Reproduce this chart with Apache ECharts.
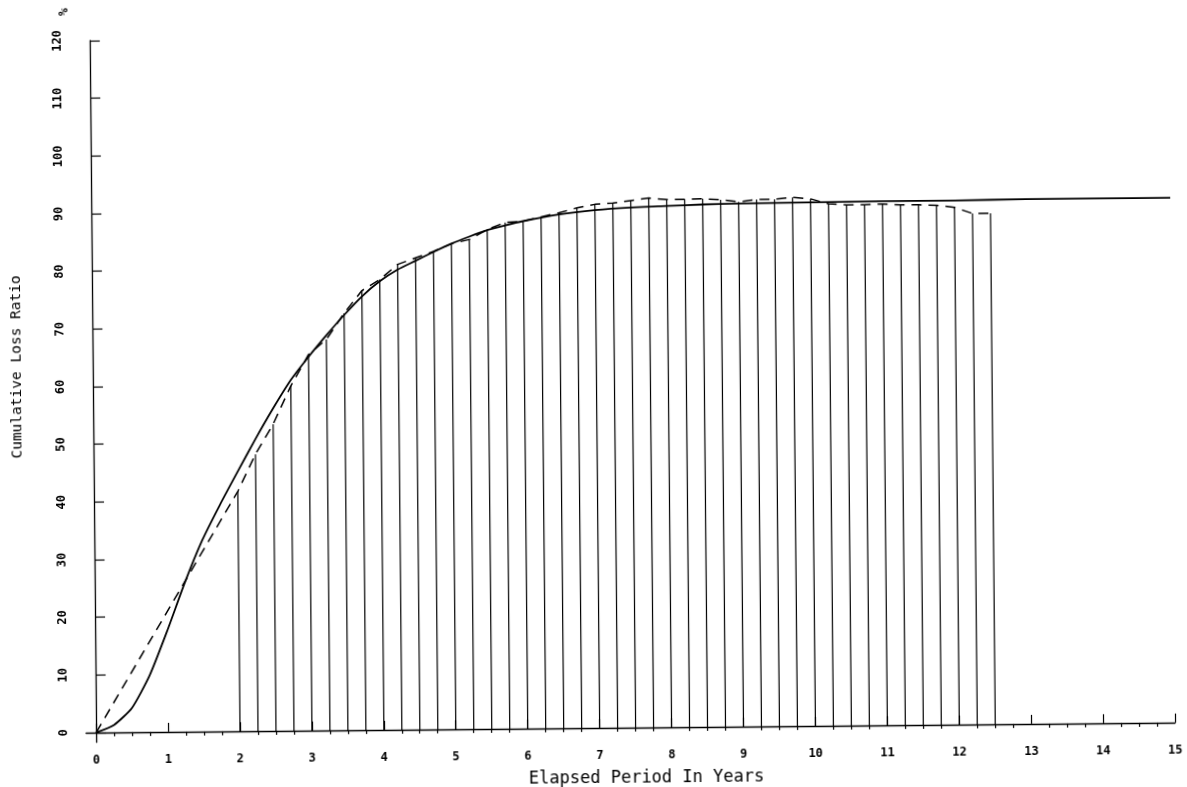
<!DOCTYPE html>
<html>
<head>
<meta charset="utf-8">
<script src="https://cdn.jsdelivr.net/npm/echarts@6/dist/echarts.min.js"></script>
<style>
  html, body { margin: 0; padding: 0; background: #fff; overflow: hidden; }
  #chart { width: 1187px; height: 787px; transform: rotate(-0.53deg); transform-origin: 50% 50%; }
</style>
</head>
<body>
<div id="chart"></div>
<script>
// Observed cumulative loss ratio (%) by development age in years, quarterly from year 2
const observedYears = [0,
  2, 2.25, 2.5, 2.75, 3, 3.25, 3.5, 3.75, 4, 4.25, 4.5, 4.75,
  5, 5.25, 5.5, 5.75, 6, 6.25, 6.5, 6.75, 7, 7.25, 7.5, 7.75,
  8, 8.25, 8.5, 8.75, 9, 9.25, 9.5, 9.75, 10, 10.25, 10.5, 10.75,
  11, 11.25, 11.5, 11.75, 12, 12.25, 12.5];
const observedRatio = [0,
  41.6, 48.0, 53.2, 59.8, 65.2, 67.8, 72.3, 76.2, 78.1, 80.7, 81.8, 82.9,
  84.2, 84.9, 86.6, 87.8, 88.0, 88.7, 89.4, 90.2, 90.8, 91.0, 91.4, 91.8,
  91.5, 91.5, 91.6, 91.4, 91.0, 91.4, 91.4, 91.7, 91.4, 90.5, 90.3, 90.3,
  90.4, 90.2, 90.2, 90.1, 89.7, 88.6, 88.6];

// Fitted development curve
const fittedYears = [0, 0.25, 0.5, 0.75, 1, 1.25, 1.5, 1.75, 2, 2.25, 2.5, 2.75,
  3, 3.25, 3.5, 3.75, 4, 4.25, 4.5, 4.75, 5, 5.25, 5.5, 5.75,
  6, 6.5, 7, 7.5, 8, 8.5, 9, 10, 11, 12, 13, 14, 15];
const fittedRatio = [0, 1.3, 4.2, 9.8, 17.5, 25.8, 33.2, 39.3, 45.0, 50.6, 55.9, 60.8,
  64.8, 68.5, 72.0, 75.2, 77.8, 79.8, 81.3, 82.8, 84.2, 85.4, 86.5, 87.3,
  88.0, 89.1, 89.8, 90.2, 90.4, 90.6, 90.7, 90.8, 90.9, 90.9, 91.0, 91.0, 91.0];

// Axis ticks
const xTickLabels = [0, 1, 2, 3, 4, 5, 6, 7, 8, 9, 10, 11, 12, 13, 14, 15];
const yTickLabels = [0, 10, 20, 30, 40, 50, 60, 70, 80, 90, 100, 110, 120];
const quarterTicks = [];
for (let q = 1; q < 60; q++) { if (q % 4) quarterTicks.push(q / 4); }

const observedPoints = observedYears.map((t, i) => [t, observedRatio[i]]);
const fittedPoints = fittedYears.map((t, i) => [t, fittedRatio[i]]);

const ink = '#000';
const labelFont = { fontFamily: 'DejaVu Sans Mono', fontSize: 12, fontWeight: 'bold', color: ink };

const chart = echarts.init(document.getElementById('chart'), null, { renderer: 'canvas' });
chart.setOption({
  animation: false,
  backgroundColor: '#fff',
  grid: { left: 83, right: 15, top: 36, bottom: 49.3, containLabel: false },
  xAxis: [
    {
      type: 'value', min: -0.14, max: 15,
      axisLine: { show: true, onZero: true, lineStyle: { color: ink, width: 1.3 } },
      axisTick: { show: true, inside: true, length: 9, customValues: xTickLabels, lineStyle: { color: ink, width: 1.2 } },
      axisLabel: Object.assign({ margin: 12, customValues: xTickLabels, formatter: v => String(v) }, labelFont),
      splitLine: { show: false }
    },
    {
      // quarter-year minor ticks along the same baseline
      type: 'value', min: -0.14, max: 15,
      axisLine: { show: false, onZero: true, onZeroAxisIndex: 1 },
      axisTick: { show: true, inside: true, length: 4, customValues: quarterTicks, lineStyle: { color: ink, width: 1.2 } },
      axisLabel: { show: false },
      splitLine: { show: false }
    }
  ],
  yAxis: [
    {
      type: 'value', min: -1.7, max: 120,
      axisLine: { show: true, onZero: true, lineStyle: { color: ink, width: 1.3 } },
      axisTick: { show: true, inside: true, length: 10, customValues: yTickLabels, lineStyle: { color: ink, width: 1.2 } },
      axisLabel: Object.assign({ margin: 16, rotate: 90, customValues: yTickLabels, formatter: v => String(v) }, labelFont),
      splitLine: { show: false }
    },
    {
      type: 'value', min: -1.7, max: 120, show: false,
      axisLine: { onZero: false }, splitLine: { show: false }
    }
  ],
  graphic: [
    {
      type: 'text', left: 10, top: 270, rotation: Math.PI / 2,
      style: { text: 'Cumulative Loss Ratio', font: '14.5px "DejaVu Sans Mono"', fill: ink }
    },
    {
      type: 'text', x: 643, y: 779,
      style: { text: 'Elapsed Period In Years', font: '17px "DejaVu Sans Mono"', fill: ink, align: 'center', verticalAlign: 'middle' }
    },
    {
      type: 'text', x: 68, y: 7, rotation: Math.PI / 2,
      style: { text: '%', font: 'bold 13px "DejaVu Sans Mono"', fill: ink, align: 'center', verticalAlign: 'middle' }
    }
  ],
  series: [
    {
      name: 'Drop lines', type: 'bar', xAxisIndex: 0, yAxisIndex: 0,
      barWidth: 1.2, itemStyle: { color: ink },
      data: observedPoints
    },
    {
      name: 'Observed', type: 'line', xAxisIndex: 0, yAxisIndex: 0,
      showSymbol: false, symbol: 'none',
      lineStyle: { color: ink, width: 1.5, type: [10, 7] },
      data: observedPoints
    },
    {
      name: 'Fitted', type: 'line', xAxisIndex: 0, yAxisIndex: 0,
      showSymbol: false, symbol: 'none', smooth: 0.2,
      lineStyle: { color: ink, width: 1.8 },
      data: fittedPoints
    }
  ]
});
</script>
</body>
</html>
